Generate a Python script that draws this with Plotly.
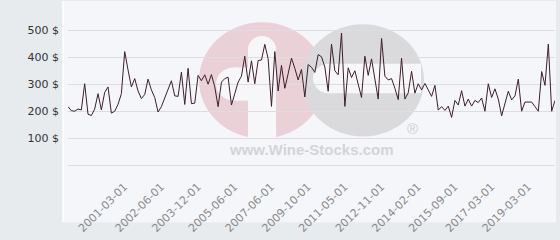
import plotly.graph_objects as go

dates = [
    "1999-10-01", "1999-11-01", "1999-12-01", "2000-01-01", "2000-02-01", "2000-03-01",
    "2000-04-01", "2000-05-01", "2000-06-01", "2000-07-01", "2000-08-01", "2000-09-01",
    "2000-10-01", "2000-11-01", "2000-12-01", "2001-01-01",
    "2001-03-01",
    "2001-04-01", "2001-05-01", "2001-06-01", "2001-08-01", "2001-09-01", "2001-10-01",
    "2001-12-01", "2002-01-01", "2002-03-01", "2002-04-01",
    "2002-06-01",
    "2002-07-01", "2002-09-01", "2002-10-01", "2002-12-01", "2003-01-01", "2003-03-01",
    "2003-05-01", "2003-06-01", "2003-08-01", "2003-10-01",
    "2003-12-01",
    "2004-01-01", "2004-03-01", "2004-04-01", "2004-06-01", "2004-08-01", "2004-09-01",
    "2004-11-01", "2005-01-01", "2005-03-01", "2005-04-01",
    "2005-06-01",
    "2005-08-01", "2005-10-01", "2005-12-01", "2006-02-01", "2006-04-01", "2006-07-01",
    "2006-09-01", "2006-11-01", "2007-01-01", "2007-04-01",
    "2007-06-01",
    "2007-09-01", "2007-12-01", "2008-02-01", "2008-05-01", "2008-08-01", "2008-11-01",
    "2009-01-01", "2009-03-01", "2009-06-01", "2009-08-01",
    "2009-10-01",
    "2009-11-01", "2010-01-01", "2010-03-01", "2010-04-01", "2010-06-01", "2010-08-01",
    "2010-09-01", "2010-11-01", "2011-01-01", "2011-03-01",
    "2011-05-01",
    "2011-06-01", "2011-08-01", "2011-09-01", "2011-11-01", "2012-01-01", "2012-02-01",
    "2012-04-01", "2012-06-01", "2012-07-01", "2012-09-01",
    "2012-11-01",
    "2012-12-01", "2013-01-01", "2013-03-01", "2013-04-01", "2013-05-01", "2013-07-01",
    "2013-08-01", "2013-09-01", "2013-11-01", "2013-12-01",
    "2014-02-01",
    "2014-03-01", "2014-05-01", "2014-06-01", "2014-08-01", "2014-10-01", "2014-11-01",
    "2015-01-01", "2015-03-01", "2015-05-01", "2015-07-01",
    "2015-09-01",
    "2015-10-01", "2015-12-01", "2016-01-01", "2016-03-01", "2016-05-01", "2016-06-01",
    "2016-08-01", "2016-10-01", "2016-11-01", "2017-01-01",
    "2017-03-01",
    "2017-05-01", "2017-07-01", "2017-09-01", "2017-11-01", "2018-01-01", "2018-03-01",
    "2018-05-01", "2018-07-01", "2018-09-01", "2018-11-01",
    "2019-03-01",
    "2019-04-01", "2019-05-01", "2019-06-01", "2019-07-01", "2019-08-01", "2019-09-01",
    "2019-10-01", "2019-11-01", "2019-12-01",
]

prices = [
    217, 202, 200, 208, 205, 302, 189, 184, 208, 265, 205, 270, 290, 193, 200, 225,
    265, 421, 353, 290, 321, 275, 247, 262, 319, 279, 251, 197, 217, 251, 279, 313,
    257, 255, 345, 225, 359, 228, 230, 333, 313, 335, 300, 336, 290, 217, 308, 321,
    326, 223, 265, 308, 330, 404, 308, 387, 302, 388, 390, 448, 395, 218, 421, 275,
    370, 285, 339, 397, 359, 316, 355, 253, 373, 363, 344, 410, 402, 364, 274, 449,
    350, 335, 490, 218, 361, 325, 350, 297, 251, 404, 333, 394, 320, 245, 470, 330,
    316, 321, 285, 243, 397, 245, 268, 348, 267, 302, 279, 303, 279, 255, 296, 204,
    217, 203, 219, 177, 240, 223, 276, 219, 245, 219, 240, 232, 249, 200, 302, 251,
    283, 245, 183, 234, 274, 242, 257, 319, 200, 234, 234, 234, 217, 200, 347, 296,
    449, 200, 240,
]

tick_labels = ["2001-03-01", "2002-06-01", "2003-12-01", "2005-06-01", "2007-06-01",
               "2009-10-01", "2011-05-01", "2012-11-01", "2014-02-01", "2015-09-01",
               "2017-03-01", "2019-03-01"]

y_ticks = [0, 100, 200, 300, 400, 500]
y_tick_text = ["", "100 $", "200 $", "300 $", "400 $", "500 $"]

W, H = 560, 240
L, R, T, B = 68, 5, 14, 60
PW, PH = W - L - R, H - T - B
Y_RANGE = [-6.8, 560.5]


def px(x):
    return (x - L) / PW


def py(y):
    return (H - B - y) / PH


WHITE = "#f7f7f9"
shapes = [
    # light plot panel
    dict(type="rect", xref="paper", yref="paper", x0=px(63), x1=px(556), y0=py(240), y1=py(0),
         fillcolor="#f5f6f9", line_width=0, layer="below"),
    dict(type="line", xref="paper", yref="paper", x0=px(63), x1=px(63), y0=py(240), y1=py(0),
         line=dict(color="#ffffff", width=1.5), layer="below"),
    # watermark: pink circle
    dict(type="circle", xref="paper", yref="paper", x0=px(199), x1=px(325), y0=py(149), y1=py(23),
         fillcolor="#ead0d7", line_width=0, layer="below"),
    # watermark: grey circle
    dict(type="circle", xref="paper", yref="paper", x0=px(302), x1=px(424), y0=py(147), y1=py(25),
         fillcolor="#dadadc", line_width=0, layer="below"),
    # white shapes inside pink circle
    dict(type="rect", xref="paper", yref="paper", x0=px(248), x1=px(276), y0=py(149), y1=py(52),
         fillcolor=WHITE, line_width=0, layer="below"),
    dict(type="circle", xref="paper", yref="paper", x0=px(248), x1=px(276), y0=py(66), y1=py(38),
         fillcolor=WHITE, line_width=0, layer="below"),
    dict(type="rect", xref="paper", yref="paper", x0=px(234), x1=px(250), y0=py(108), y1=py(72),
         fillcolor=WHITE, line_width=0, layer="below"),
    dict(type="circle", xref="paper", yref="paper", x0=px(216), x1=px(252), y0=py(108), y1=py(72),
         fillcolor=WHITE, line_width=0, layer="below"),
    # white bar inside grey circle
    dict(type="rect", xref="paper", yref="paper", x0=px(330), x1=px(421), y0=py(100), y1=py(68),
         fillcolor=WHITE, line_width=0, layer="below"),
    dict(type="circle", xref="paper", yref="paper", x0=px(313), x1=px(345), y0=py(100), y1=py(68),
         fillcolor=WHITE, line_width=0, layer="below"),
]

annotations = [
    dict(text="<b>www.Wine-Stocks.com</b>", xref="paper", yref="paper", x=px(311), y=py(161),
         showarrow=False, font=dict(family="Liberation Sans", size=15, color="#d4d4d6"),
         xanchor="center", yanchor="middle"),
    dict(text="®", xref="paper", yref="paper", x=px(412), y=py(138),
         showarrow=False, font=dict(family="Liberation Sans", size=15, color="#cfcfd1"),
         xanchor="center", yanchor="middle"),
]

fig = go.Figure()
fig.add_trace(go.Scatter(
    x=dates, y=prices, mode="lines",
    line=dict(color="#3d1f2b", width=1),
    hoverinfo="skip", showlegend=False,
))

fig.update_layout(
    width=W, height=H,
    margin=dict(l=L, r=R, t=T, b=B, pad=0),
    paper_bgcolor="#e8ebee",
    plot_bgcolor="rgba(0,0,0,0)",
    shapes=shapes,
    annotations=annotations,
    font=dict(family="DejaVu Sans", size=11, color="#333333"),
    xaxis=dict(
        type="category",
        range=[0, len(dates) - 1],
        tickmode="array", tickvals=tick_labels, ticktext=tick_labels,
        tickangle=-45,
        tickfont=dict(family="DejaVu Sans", size=11, color="#8a8a8a"),
        showgrid=False, zeroline=False, showline=False,
        ticks="outside", ticklen=8, tickcolor="rgba(0,0,0,0)",
        ticklabelshift=3,
    ),
    yaxis=dict(
        range=Y_RANGE,
        tickmode="array", tickvals=y_ticks, ticktext=y_tick_text,
        tickfont=dict(family="DejaVu Sans", size=11, color="#333333"),
        showgrid=True, gridcolor="#dddddd", gridwidth=1,
        zeroline=False, showline=False,
        ticklabelstandoff=8,
    ),
)

fig.write_html("out.html")
